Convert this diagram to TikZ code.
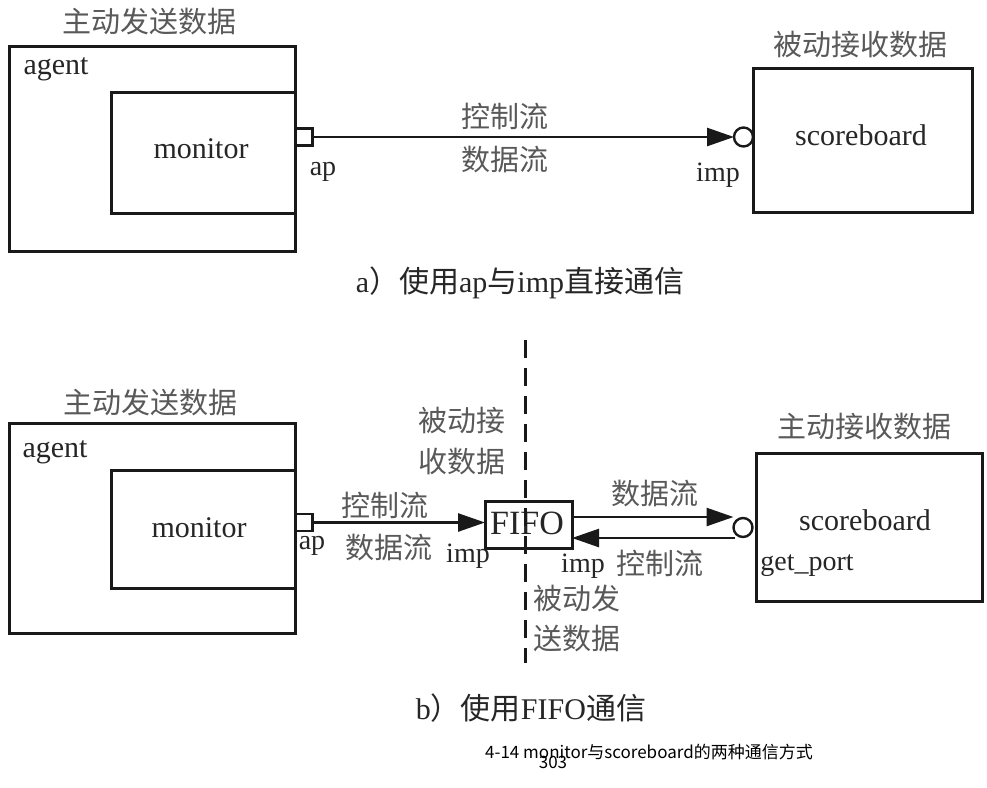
\documentclass[tikz,border=0pt]{standalone}
\usepackage{fontspec}
\setmainfont{Liberation Serif}
\newfontfamily\cjk{Noto Sans CJK SC}
\usetikzlibrary{arrows.meta}
\begin{document}
\begin{tikzpicture}[x=1pt,y=-1pt,
  box/.style={draw=black!90, line width=3pt, inner sep=0pt, outer sep=0pt},
  port/.style={draw=black!90, line width=2.6pt, fill=white, inner sep=0pt, outer sep=0pt, minimum width=17pt, minimum height=17pt},
  iport/.style={circle, draw=black!90, line width=2.4pt, fill=white, inner sep=0pt, outer sep=0pt, minimum size=19pt},
  lat/.style={font=\fontsize{30}{34}\selectfont, text=black!85, inner sep=0pt},
  slat/.style={font=\fontsize{28}{32}\selectfont, text=black!85, inner sep=0pt},
  zh/.style={font=\cjk\fontsize{29}{33}\selectfont, text=black!65, inner sep=0pt},
  arr/.style={draw=black!90, line width=2.6pt, -{Triangle[length=27pt,width=18pt]}},
  dsh/.style={draw=black!90, line width=3pt, dash pattern=on 18pt off 10pt}]
\useasboundingbox (0,0) rectangle (987,787);
\fill[white] (0,0) rectangle (987,787);

% ---------- part a ----------
\node[box, minimum width=286pt, minimum height=205pt] (agentA) at (152,148.5) {};
\node[box, minimum width=184pt, minimum height=121pt] (monA) at (203,152.5) {};
\node[lat] (agentAt) at (56,69) {agent};
\node[lat] (monAt) at (201,149) {monitor};
\node[zh] (titleA1) at (149,21) {主动发送数据};
\node[port] (apA) at (304,137) {};
\node[slat] (apAt) at (323,172) {ap};

\node[box, minimum width=219pt, minimum height=144pt] (sbA) at (862.5,140) {};
\node[lat] (sbAt) at (861,135) {scoreboard};
\node[zh] (titleA2) at (860,45) {被动接收数据};
\node[iport] (impA) at (743.5,137) {};
\node[slat] (impAt) at (718,175) {imp};

\draw[arr] (apA.east) -- (impA.west);
\node[zh] (ctrlA) at (505,116) {控制流};
\node[zh] (dataA) at (505,160) {数据流};

\node[lat] (capA) at (520,283) {a{\cjk ）使用}ap{\cjk 与}imp{\cjk 直接通信}};

% ---------- part b ----------
\coordinate (dTop) at (525,340);
\coordinate (dBot) at (525,663);

\node[box, minimum width=286pt, minimum height=210pt] (agentB) at (152,528) {};
\node[box, minimum width=184pt, minimum height=118pt] (monB) at (203,529) {};
\node[lat] (agentBt) at (55,452) {agent};
\node[lat] (monBt) at (199,528) {monitor};
\node[zh] (titleB1) at (150,402) {主动发送数据};
\node[port] (apB) at (304,522.5) {};
\node[slat] (apBt) at (312,546) {ap};

\node[box, minimum width=87pt, minimum height=47pt] (fifo) at (528.5,524.5) {};
\node[font=\fontsize{34}{38}\selectfont, text=black!85, inner sep=0pt] (fifot) at (527,523) {FIFO};
\draw[dsh] (dTop) -- (dBot);

\draw[arr] (apB.east) -- (apB.east -| fifo.west);
\node[zh] (ctrlB1) at (385,505) {控制流};
\node[zh] (dataB1) at (389,548) {数据流};
\node[slat] (impB1) at (468,556) {imp};

\node[zh] (pr1) at (462,421) {被动接};
\node[zh] (pr2) at (462,462) {收数据};
\node[zh] (ps1) at (577,598) {被动发};
\node[zh] (ps2) at (577,638) {送数据};

\node[box, minimum width=226pt, minimum height=148pt] (sbB) at (869,527) {};
\node[lat] (sbBt) at (865,520) {scoreboard};
\node[slat] (gpt) at (807,566) {get\_port};
\node[zh] (titleB2) at (864,427) {主动接收数据};
\node[iport] (gp) at (743,527.5) {};

\coordinate (fifoTop) at (572,517);
\coordinate (fifoBot) at (572,538);
\coordinate (gpTop) at (733.5,517);
\coordinate (gpBot) at (735,538);
\draw[arr] (fifoTop) -- (gpTop);
\draw[arr] (gpBot) -- (fifoBot);
\node[zh] (dataB2) at (655,494) {数据流};
\node[slat] (impB2) at (583,566) {imp};
\node[zh] (ctrlB2) at (660,563) {控制流};

\node[lat] (capB) at (531,708) {b{\cjk ）使用}FIFO{\cjk 通信}};

% ---------- footer ----------
\node[font=\cjk\fontsize{17}{20}\selectfont, inner sep=0pt] (foot) at (649,752) {4-14 monitor与scoreboard的两种通信方式};
\node[font=\cjk\fontsize{17}{20}\selectfont, inner sep=0pt] (pg) at (553,762) {303};
\end{tikzpicture}
\end{document}
